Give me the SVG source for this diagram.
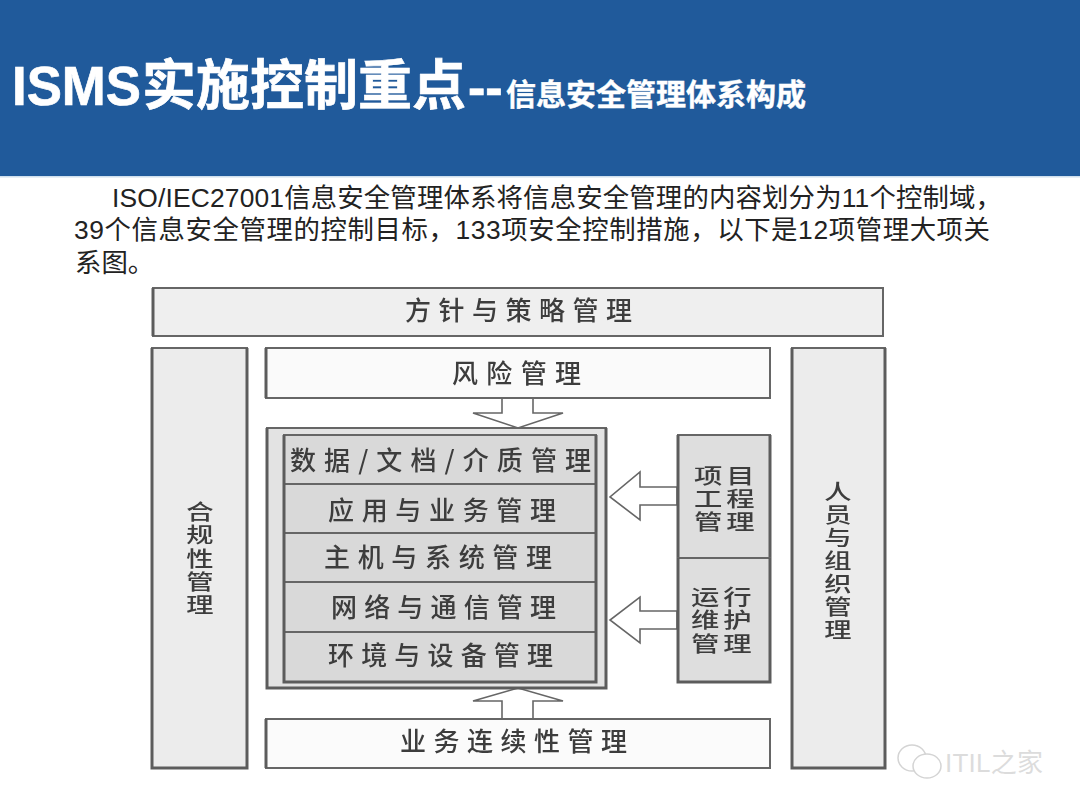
<svg xmlns="http://www.w3.org/2000/svg" width="1080" height="810" viewBox="0 0 1080 810">
<defs>
<filter id="soft" x="-5%" y="-5%" width="110%" height="110%"><feGaussianBlur stdDeviation="0.6"/></filter>
</defs>
<style>
text{font-family:"Liberation Sans","Noto Sans CJK SC",sans-serif}
.title{font-weight:700;fill:#fff;stroke:#fff;stroke-width:.7}
.body{font-size:26.4px;fill:#222}
.lab{font-size:26px;fill:#3c3c3c;font-weight:500;font-family:"Noto Sans CJK SC",sans-serif}
.v{font-size:21px;fill:#3c3c3c;font-weight:500;text-anchor:middle;font-family:"Noto Sans CJK SC",sans-serif}
.box{stroke:#666;stroke-width:2}
.edge{stroke:#5c5c5c;stroke-width:3;fill:none}
.arrow{fill:#fff;stroke:#666;stroke-width:1.6}
</style>
<rect width="1080" height="810" fill="#fff"/>
<g id="header">
<rect width="1080" height="176" fill="#205a9b"/>
<rect y="176" width="1080" height="1.5" fill="#cfe0ee"/>
<text class="title" x="12" y="105" font-size="55" textLength="129" lengthAdjust="spacingAndGlyphs">ISMS</text>
<text class="title" x="142" y="105" font-size="54">实施控制重点</text>
<text class="title" x="468" y="105" font-size="52">--</text>
<text class="title" x="506" y="105" font-size="30" style="stroke-width:.4">信息安全管理体系构成</text>
</g>
<g id="intro">
<text class="body" x="112" y="207" textLength="890">ISO/IEC27001信息安全管理体系将信息安全管理的内容划分为11个控制域，</text>
<text class="body" x="74" y="239" textLength="916">39个信息安全管理的控制目标，133项安全控制措施，以下是12项管理大项关</text>
<text class="body" x="75" y="272">系图。</text>
</g>
<g filter="url(#soft)">
<g id="connectors">
<polygon class="arrow" points="502,398 533,398 533,413 563,413 518,428 473,413 502,413"/>
<polygon class="arrow" points="677,487 677,505 640,505 640,520 610,497 640,472 640,487"/>
<polygon class="arrow" points="677,611 677,629 640,629 640,643 610,620 640,597 640,611"/>
<polygon class="arrow" points="502,719 533,719 533,701 563,701 518,688 473,701 502,701"/>
</g>
<g id="node-policy">
<rect class="box" x="153" y="288" width="730" height="48" fill="#efefef"/>
<path class="edge" d="M153,288V336"/>
<text class="lab" x="405" y="320" textLength="227">方针与策略管理</text>
</g>
<g id="node-compliance">
<rect class="box" x="152" y="348" width="95" height="420" fill="#ececec"/>
<path class="edge" d="M152,348V768H247V348"/>
<text class="v" transform="translate(200,519) scale(1.3,1)"><tspan x="0" y="0">合</tspan><tspan x="0" y="23">规</tspan><tspan x="0" y="47">性</tspan><tspan x="0" y="70">管</tspan><tspan x="0" y="93">理</tspan></text>
</g>
<g id="node-risk">
<rect class="box" x="266" y="348" width="504" height="50" fill="#fafafa"/>
<path class="edge" d="M266,348V398"/>
<text class="lab" x="452" y="383" textLength="129">风险管理</text>
</g>
<g id="node-core">
<rect class="box" x="267" y="428" width="339" height="260" fill="#e3e3e3"/>
<path class="edge" d="M267,428V688H606V428"/>
</g>
<g id="node-data">
<rect class="box" x="284" y="435" width="312" height="49" fill="#d9d9d9"/>
<text class="lab" x="290" y="470" textLength="301">数据/文档/介质管理</text>
</g>
<g id="node-app">
<rect class="box" x="284" y="484" width="312" height="49" fill="#d9d9d9"/>
<text class="lab" x="328" y="520" textLength="228">应用与业务管理</text>
</g>
<g id="node-host">
<rect class="box" x="284" y="533" width="312" height="49" fill="#d9d9d9"/>
<text class="lab" x="324" y="567" textLength="228">主机与系统管理</text>
</g>
<g id="node-network">
<rect class="box" x="284" y="582" width="312" height="50" fill="#d9d9d9"/>
<text class="lab" x="331" y="617" textLength="225">网络与通信管理</text>
</g>
<g id="node-env">
<rect class="box" x="284" y="632" width="312" height="50" fill="#d9d9d9"/>
<text class="lab" x="328" y="665" textLength="225">环境与设备管理</text>
<path class="edge" d="M284,435V682H596V435"/>
</g>
<g id="node-project">
<rect class="box" x="678" y="435" width="92" height="123" fill="#dedede"/>
<path class="edge" d="M678,558V435M770,435V558"/>
<text class="v" transform="translate(725,483) scale(1.35,1)" style="letter-spacing:3px"><tspan x="1" y="0">项目</tspan><tspan x="1" y="23">工程</tspan><tspan x="1" y="46">管理</tspan></text>
</g>
<g id="node-ops">
<rect class="box" x="678" y="558" width="92" height="124" fill="#dedede"/>
<path class="edge" d="M678,558V682H770V558"/>
<text class="v" transform="translate(722,604) scale(1.35,1)" style="letter-spacing:3px"><tspan x="1" y="0">运行</tspan><tspan x="1" y="23">维护</tspan><tspan x="1" y="47">管理</tspan></text>
</g>
<g id="node-people">
<rect class="box" x="792" y="348" width="93" height="420" fill="#ececec"/>
<path class="edge" d="M792,348V768H885V348"/>
<text class="v" transform="translate(838,499) scale(1.3,1)"><tspan x="0" y="0">人</tspan><tspan x="0" y="23">员</tspan><tspan x="0" y="46">与</tspan><tspan x="0" y="69">组</tspan><tspan x="0" y="92">织</tspan><tspan x="0" y="115">管</tspan><tspan x="0" y="138">理</tspan></text>
</g>
<g id="node-continuity">
<rect class="box" x="266" y="719" width="504" height="49" fill="#fbfbfb"/>
<path class="edge" d="M266,719V768"/>
<text class="lab" x="400" y="751" textLength="227">业务连续性管理</text>
</g>
</g>
<g id="watermark" fill="#fff" stroke="#d4d4d4" stroke-width="1.5">
<ellipse cx="912" cy="758" rx="14" ry="13"/>
<ellipse cx="927" cy="766" rx="14" ry="12"/>
<text x="945" y="772" font-size="26" fill="#dcdcdc" stroke="none" textLength="98">ITIL之家</text>
</g>
</svg>
